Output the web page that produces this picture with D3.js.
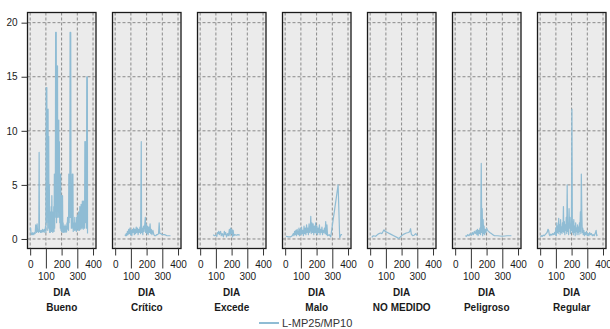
<!DOCTYPE html>
<html><head><meta charset="utf-8">
<script src="https://cdn.jsdelivr.net/npm/d3@7"></script>
<style>
html,body{margin:0;padding:0;background:#fff;}
svg{display:block;font-family:"Liberation Sans",Arial,sans-serif;}
</style></head>
<body><svg id="chart" width="610" height="329"></svg>
<script>
const categories = ["Bueno","Crítico","Excede","Malo","NO MEDIDO","Peligroso","Regular"];
const xTicks = [0,100,200,300,400];
const yTicks = [0,5,10,15,20];
const xLabel = "DIA";
const seriesName = "L-MP25/MP10";

const bueno = [[1,0.9],[3,1.0],[5,0.6],[8,0.4],[11,0.5],[14,0.4],[17,0.6],[20,0.5],[23,0.4],[26,0.5],[29,0.6],[32,0.5],[35,1.3],[38,1.2],[41,0.6],[44,1.4],[47,0.7],[50,0.8],[53,0.6],[55,1.0],[57,8.0],[59,0.7],[62,0.8],[65,0.6],[68,0.7],[71,0.8],[74,0.6],[77,0.7],[80,0.9],[83,0.7],[86,0.8],[89,0.6],[92,0.9],[95,0.8],[98,1.2],[100,0.6],[102,14.0],[104,1.5],[106,14.0],[108,3.0],[110,12.0],[112,0.8],[114,12.0],[116,2.0],[118,9.5],[120,1.0],[122,5.0],[124,0.6],[126,1.2],[128,0.6],[130,2.5],[132,0.8],[134,3.0],[136,0.7],[138,4.0],[140,1.2],[142,2.5],[144,0.6],[146,1.5],[148,0.8],[150,3.0],[152,0.7],[154,6.0],[156,1.0],[158,4.0],[160,2.0],[162,19.1],[164,3.0],[166,19.1],[168,1.5],[170,16.0],[172,5.0],[174,16.0],[176,2.0],[178,11.0],[180,3.0],[182,11.0],[184,2.0],[186,9.0],[188,1.5],[190,6.0],[192,1.0],[194,6.0],[196,0.8],[198,2.0],[200,0.7],[202,4.0],[204,1.0],[206,4.0],[208,0.6],[210,1.5],[212,0.7],[214,1.2],[216,0.6],[218,1.0],[220,0.7],[222,1.3],[224,0.8],[226,1.0],[228,0.6],[230,1.2],[232,0.7],[234,1.5],[236,0.9],[238,2.0],[240,1.0],[242,1.5],[244,0.8],[246,6.0],[248,1.5],[250,6.0],[252,2.0],[254,19.1],[256,2.0],[258,19.1],[260,4.5],[262,1.0],[264,4.5],[266,1.0],[268,6.0],[270,1.2],[272,6.0],[274,0.7],[276,1.5],[278,0.9],[280,1.3],[282,0.8],[284,2.0],[286,1.0],[288,1.2],[290,0.8],[292,1.5],[294,0.7],[296,2.0],[298,1.0],[300,2.2],[302,0.9],[304,1.5],[306,0.8],[308,2.5],[310,1.0],[312,2.0],[314,0.8],[316,3.0],[318,1.2],[320,2.5],[322,0.9],[324,3.2],[326,1.0],[328,3.0],[330,1.2],[332,3.5],[334,1.0],[336,2.0],[338,0.9],[340,3.5],[342,1.1],[344,3.0],[346,1.0],[348,9.0],[350,1.5],[352,9.0],[354,2.0],[356,3.5],[358,1.0],[360,15.0],[362,2.0],[364,15.0],[365,0.5]];

const critico = [[62,0.4],[66,0.3],[70,0.5],[74,0.3],[78,0.7],[82,0.4],[86,0.9],[90,0.5],[94,1.0],[98,0.4],[102,0.8],[106,0.3],[110,0.9],[114,0.6],[118,1.0],[122,0.4],[126,0.9],[130,0.5],[134,1.1],[138,0.6],[142,1.0],[146,0.4],[150,0.9],[154,0.6],[158,1.1],[162,0.5],[166,9.0],[168,0.6],[172,1.0],[176,0.4],[180,1.2],[184,0.7],[188,1.3],[192,2.0],[194,0.6],[198,1.4],[202,0.5],[206,1.2],[210,0.4],[214,1.1],[218,0.6],[222,1.4],[226,0.5],[230,0.9],[234,0.4],[240,0.8],[246,0.4],[252,0.3],[258,0.3],[264,0.4],[270,0.4],[276,0.5],[280,1.5],[284,0.5],[290,0.5],[300,0.4],[315,0.4],[330,0.3],[352,0.3]];

const excede = [[83,0.4],[92,0.3],[100,0.35],[106,0.25],[110,0.6],[114,0.5],[118,0.7],[122,0.4],[126,0.6],[130,0.7],[134,0.3],[140,0.5],[148,0.2],[154,0.7],[158,0.4],[162,0.6],[168,0.2],[174,0.5],[180,0.3],[186,0.9],[190,0.3],[194,1.0],[198,0.5],[202,0.9],[206,0.2],[210,0.8],[214,0.3],[220,0.4],[230,0.35],[240,0.4],[252,0.35]];

const malo = [[5,0.25],[20,0.2],[35,0.2],[45,0.3],[52,0.5],[56,0.3],[60,0.7],[64,0.4],[68,0.8],[72,0.3],[76,0.9],[80,0.5],[84,0.4],[88,1.0],[92,0.3],[96,0.9],[100,0.4],[104,1.1],[108,0.5],[112,0.8],[116,0.3],[120,1.2],[124,0.5],[128,1.0],[132,0.4],[136,1.3],[140,0.6],[144,1.0],[148,0.4],[152,1.4],[156,0.6],[160,0.9],[163,2.1],[166,0.5],[170,1.5],[174,0.6],[178,1.4],[182,0.4],[186,1.2],[190,0.6],[194,1.5],[198,0.5],[202,1.2],[206,0.4],[210,1.0],[214,0.6],[218,1.3],[222,0.4],[226,0.9],[230,0.6],[234,1.1],[238,0.4],[242,0.8],[246,0.6],[250,1.0],[254,0.5],[258,1.6],[262,0.4],[266,1.3],[270,0.3],[280,0.4],[290,0.2],[337,5.0],[347,0.1],[355,0.4],[362,0.4]];

const noMedido = [[10,0.15],[20,0.3],[35,0.25],[50,0.45],[65,0.55],[75,0.5],[88,0.85],[95,0.7],[110,0.6],[130,0.45],[150,0.3],[170,0.15],[183,0.05],[200,0.3],[215,0.45],[230,0.55],[245,0.6],[252,0.7],[257,0.95],[262,0.45],[270,0.3],[280,0.35],[290,0.5],[300,0.3]];

const peligroso = [[64,0.3],[72,0.25],[80,0.4],[88,0.3],[96,0.5],[104,0.35],[110,0.6],[116,0.4],[122,0.7],[128,0.5],[134,0.8],[138,0.4],[142,0.9],[146,0.3],[150,0.8],[154,0.5],[158,1.0],[162,0.4],[166,7.0],[169,0.6],[172,2.8],[175,0.3],[178,1.8],[181,0.5],[184,1.2],[188,0.4],[192,0.9],[196,0.6],[200,1.0],[206,0.8],[212,0.7],[220,0.6],[230,0.5],[240,0.4],[250,0.3],[270,0.3],[300,0.25],[330,0.3],[358,0.3]];

const regular = [[2,0.2],[8,0.3],[14,0.25],[20,0.35],[26,0.3],[32,0.4],[38,0.5],[44,0.6],[50,0.9],[54,0.8],[58,0.4],[62,0.3],[68,0.45],[74,0.35],[80,0.5],[86,0.4],[92,0.6],[96,0.4],[100,1.0],[103,0.3],[106,1.5],[109,0.6],[112,1.2],[115,0.5],[118,1.9],[121,0.7],[124,1.3],[127,0.4],[130,1.8],[133,0.6],[136,1.1],[139,0.5],[142,1.5],[145,0.7],[148,3.0],[151,0.6],[154,1.6],[157,0.4],[160,1.3],[163,0.8],[166,2.0],[169,0.5],[172,5.0],[175,0.7],[178,1.5],[181,0.4],[184,2.8],[187,1.0],[190,2.0],[193,0.5],[196,1.4],[199,0.8],[202,12.0],[205,0.6],[208,1.6],[211,0.4],[214,1.8],[217,0.6],[220,1.2],[223,0.3],[226,1.5],[229,0.7],[232,1.0],[235,0.4],[238,1.3],[241,0.6],[244,1.1],[247,0.4],[250,1.5],[253,0.7],[256,2.5],[259,0.5],[262,6.0],[265,2.5],[268,0.6],[271,1.0],[274,0.4],[278,0.8],[282,0.3],[286,0.6],[290,0.4],[295,0.7],[300,0.3],[305,0.5],[310,0.3],[315,0.6],[320,0.4],[326,0.5],[332,0.3],[338,0.4],[344,0.3],[350,0.5],[356,0.8],[360,0.3],[365,0.4]];

const seriesByCategory = [bueno, critico, excede, malo, noMedido, peligroso, regular];

const svg = d3.select("#chart");
const topY = 12.5, plotH = 236;
const lineColor = "#8fbcd4";
const textColor = "#1a1a1a";

const panel = d3.scaleBand().domain(categories).range([27.5, 606]).paddingInner(0.194).paddingOuter(0);
const pw = panel.bandwidth();
const x = d3.scaleLinear().domain([-17, 419]).range([0, pw]);
const y = d3.scaleLinear().domain([-0.88, 20.94]).range([plotH, 0]);

const line = d3.line().x(d => x(d[0])).y(d => y(d[1]));

categories.forEach((cat, i) => {
  const g = svg.append("g").attr("transform", `translate(${panel(cat)},${topY})`);
  g.append("rect").attr("width", pw).attr("height", plotH).attr("fill", "#ebebeb");
  g.selectAll(".gx").data(xTicks).join("line")
    .attr("x1", d => x(d)).attr("x2", d => x(d)).attr("y1", 0).attr("y2", plotH)
    .attr("stroke", "#8a8a8a").attr("stroke-width", 1).attr("stroke-dasharray", "3,2");
  g.selectAll(".gy").data(yTicks).join("line")
    .attr("x1", 0).attr("x2", pw).attr("y1", d => y(d)).attr("y2", d => y(d))
    .attr("stroke", "#8a8a8a").attr("stroke-width", 1).attr("stroke-dasharray", "3,2");
  g.append("path").datum(seriesByCategory[i]).attr("d", line)
    .attr("fill", "none").attr("stroke", lineColor).attr("stroke-width", 1.2)
    .attr("stroke-linejoin", "round");
  g.append("rect").attr("width", pw).attr("height", plotH).attr("fill", "none")
    .attr("stroke", "#1a1a1a").attr("stroke-width", 1.3);
  const ax = g.append("g").attr("transform", `translate(0,${plotH})`)
    .call(d3.axisBottom(x).tickValues(xTicks).tickSize(7).tickPadding(5).tickFormat(d3.format("d")));
  ax.select(".domain").remove();
  ax.selectAll(".tick line").attr("stroke", "#333");
  ax.selectAll(".tick text").attr("fill", textColor).attr("font-size", 10)
    .attr("font-family", "Liberation Sans, Arial, sans-serif");
  ax.selectAll(".tick").filter(d => d === 100 || d === 300).each(function() {
    d3.select(this).select("line").attr("y2", 20);
    d3.select(this).select("text").attr("y", 24);
  });
  g.append("text").attr("x", pw / 2).attr("y", 296 - topY).attr("text-anchor", "middle")
    .attr("font-size", 10).attr("font-weight", "bold").attr("fill", textColor).text(xLabel);
  g.append("text").attr("x", pw / 2).attr("y", 311 - topY).attr("text-anchor", "middle")
    .attr("font-size", 10).attr("font-weight", "bold").attr("fill", textColor).text(cat);
  if (i === 0) {
    const ay = g.append("g").call(d3.axisLeft(y).tickValues(yTicks).tickSize(6).tickPadding(4));
    ay.select(".domain").remove();
    ay.selectAll(".tick line").attr("stroke", "#333");
    ay.selectAll(".tick text").attr("fill", textColor).attr("font-size", 10)
      .attr("font-family", "Liberation Sans, Arial, sans-serif");
  }
});

const lg = svg.append("g").attr("transform", "translate(259,323)");
lg.append("line").attr("x1", 0).attr("x2", 20).attr("y1", 0).attr("y2", 0)
  .attr("stroke", lineColor).attr("stroke-width", 2);
lg.append("text").attr("x", 23).attr("y", 4).attr("font-size", 11).attr("fill", "#333").text(seriesName);
</script>
</body></html>
